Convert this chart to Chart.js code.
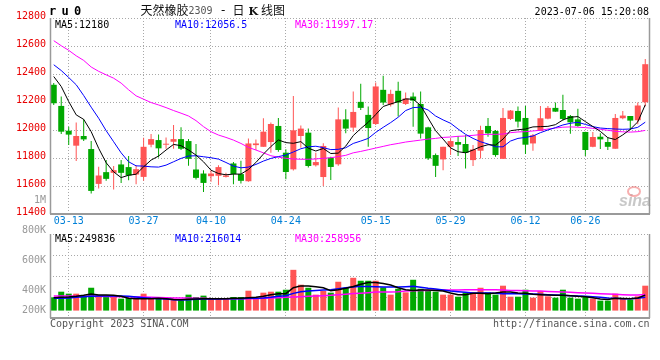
<!DOCTYPE html>
<html><head><meta charset="utf-8">
<script src="https://cdn.jsdelivr.net/npm/chart.js@4.4.0/dist/chart.umd.min.js"></script>
<style>
html,body{margin:0;padding:0;background:#fff;}
#wrap{position:relative;width:660px;height:360px;overflow:hidden;}
canvas{position:absolute;left:0;top:0;}
</style></head><body>
<div id="wrap"><canvas id="pc" width="660" height="360"></canvas><canvas id="vc" width="660" height="360"></canvas></div>
<script>
const dates = ['03-09','03-10','03-13','03-14','03-15','03-16','03-17','03-20','03-21','03-22','03-23','03-24','03-27','03-28','03-29','03-30','03-31','04-03','04-04','04-06','04-07','04-10','04-11','04-12','04-13','04-14','04-17','04-18','04-19','04-20','04-21','04-24','04-25','04-26','04-27','04-28','05-04','05-05','05-08','05-09','05-10','05-11','05-12','05-15','05-16','05-17','05-18','05-19','05-22','05-23','05-24','05-25','05-26','05-29','05-30','05-31','06-01','06-02','06-05','06-06','06-07','06-08','06-09','06-12','06-13','06-14','06-15','06-16','06-19','06-20','06-21','06-26','06-27','06-28','06-29','06-30','07-03','07-04','07-05','07-06'];
const tickDates = ['03-13','03-27','04-10','04-24','05-15','05-29','06-12','06-26'];
const priceTicks = [11400,11600,11800,12000,12200,12400,12600,12800];
const volTickLabels = ['1M','800K','600K','400K','200K'];

const opens = [12323,12172,11995,11888,11957,11864,11615,11699,11694,11754,11735,11682,11665,11895,11928,11895,11916,11935,11921,11718,11689,11670,11673,11665,11761,11685,11634,11892,11880,11914,12029,11838,11719,11957,11981,11748,11664,11802,11755,12076,12017,12201,12108,12043,12287,12182,12280,12186,12239,12186,12019,11821,11790,11880,11914,11900,11785,11852,12029,11993,11794,12079,12136,12086,11904,11993,12081,12158,12143,12100,12076,11986,11880,11952,11914,11866,12084,12100,12070,12198];
const highs = [12335,12239,12024,12053,12076,11921,11737,11785,11742,11785,11814,11749,11945,11971,11967,11947,12036,12019,11935,11900,11713,11713,11749,11694,11771,11780,11940,11933,12084,12053,12086,11862,12243,12033,12010,11838,11905,11809,12160,12148,12275,12330,12167,12339,12387,12287,12344,12268,12268,12275,12024,11833,11880,11940,11957,11964,11892,12031,12086,12000,12158,12143,12167,12172,11971,12172,12172,12196,12251,12108,12151,11988,11986,11976,11947,12115,12136,12100,12196,12507];
const lows = [12179,11971,11892,11778,11921,11546,11582,11637,11575,11622,11641,11613,11637,11876,11804,11866,11866,11857,11744,11646,11558,11630,11606,11660,11613,11618,11630,11857,11880,11837,11845,11648,11710,11874,11732,11740,11600,11643,11744,11976,11988,12143,11880,12036,12179,12167,12096,12179,12024,11940,11785,11665,11713,11821,11814,11725,11742,11797,11952,11809,11794,12072,12017,11828,11852,11993,12076,12131,12067,11974,12024,11814,11876,11864,11857,11866,12076,12000,12041,12167];
const closes = [12191,11988,11967,11957,11933,11565,11675,11651,11713,11694,11675,11720,11880,11935,11869,11902,11935,11866,11794,11658,11622,11689,11735,11675,11685,11637,11904,11904,11988,12043,11857,11700,11998,12010,11743,11771,11886,11736,12076,12010,12129,12158,12014,12311,12196,12258,12196,12225,12210,11974,11797,11744,11880,11921,11895,11837,11861,12000,11976,11821,12086,12139,12060,11895,11962,12084,12158,12131,12079,12055,12029,11857,11950,11933,11880,12086,12103,12067,12175,12470];

const ma5 = [12382,12311,12203,12108,12076,11988,11869,11766,11701,11660,11677,11684,11737,11785,11814,11857,11897,11888,11857,11821,11773,11713,11689,11680,11685,11685,11718,11768,11828,11882,11929,11910,11905,11917,11870,11850,11868,11832,11835,11885,11960,12010,12055,12110,12168,12186,12203,12222,12220,12176,12085,11995,11935,11872,11845,11837,11857,11880,11895,11892,11935,11995,12002,12007,12022,12024,12026,12038,12072,12091,12096,12060,12025,11990,11945,11932,11965,12005,12058,12180];
const ma10 = [12466,12425,12375,12323,12246,12163,12084,11995,11916,11837,11773,11744,11742,11737,11735,11749,11773,11797,11814,11816,11809,11802,11792,11768,11742,11730,11735,11754,11778,11797,11810,11821,11843,11866,11880,11884,11874,11860,11862,11873,11904,11921,11940,11983,12019,12053,12091,12139,12160,12163,12143,12100,12072,12048,12007,11969,11940,11916,11900,11880,11880,11921,11940,11947,11957,11981,12000,12017,12036,12048,12055,12040,12024,12014,12010,12007,12005,12007,12019,12056];
const ma30 = [12638,12602,12569,12530,12497,12450,12419,12394,12370,12335,12287,12244,12220,12196,12179,12160,12139,12120,12100,12067,12024,11988,11964,11947,11928,11904,11876,11857,11837,11816,11806,11798,11793,11791,11791,11793,11798,11802,11810,11819,11837,11847,11859,11871,11883,11895,11904,11914,11921,11928,11935,11940,11947,11950,11955,11957,11962,11967,11969,11969,11971,11981,11986,11988,11993,11998,12007,12014,12020,12022,12020,12017,12012,12005,11998,11990,11987,11985,11988,11997];

const volumes = [215000,306000,274000,274000,220000,370000,220000,231000,231000,193000,204000,188000,274000,220000,199000,193000,193000,166000,258000,220000,242000,193000,193000,193000,220000,220000,322000,193000,290000,306000,306000,338000,660000,419000,370000,258000,317000,290000,467000,370000,531000,483000,483000,483000,376000,258000,354000,295000,499000,354000,327000,306000,258000,258000,225000,295000,284000,370000,295000,258000,403000,225000,225000,338000,209000,317000,231000,209000,338000,209000,193000,231000,193000,161000,161000,274000,193000,177000,231000,403000];
const volMa5 = [209000,215000,220000,231000,247000,268000,252000,252000,247000,231000,200000,190000,190000,193000,200000,190000,180000,177000,182000,188000,193000,193000,193000,193000,199000,199000,209000,215000,231000,258000,274000,274000,370000,400000,397000,386000,370000,322000,338000,360000,390000,425000,455000,455000,440000,413000,370000,338000,327000,333000,333000,327000,317000,284000,258000,258000,279000,279000,274000,284000,300000,300000,284000,279000,263000,258000,252000,247000,247000,242000,231000,225000,209000,188000,180000,200000,196000,193000,205000,249836];
const volMa10 = [199000,199000,204000,215000,225000,231000,236000,236000,236000,236000,231000,220000,209000,199000,193000,188000,177000,172000,177000,182000,188000,188000,188000,193000,193000,193000,199000,199000,204000,215000,231000,242000,279000,306000,317000,327000,333000,338000,354000,370000,381000,392000,392000,386000,381000,381000,381000,386000,392000,376000,360000,349000,333000,317000,306000,295000,284000,284000,284000,279000,274000,274000,274000,268000,268000,263000,258000,252000,247000,242000,236000,231000,225000,215000,204000,199000,193000,193000,199000,216014];
const volMa30 = [236000,236000,236000,234000,231000,231000,231000,228000,228000,225000,225000,220000,218000,215000,212000,209000,204000,204000,202000,199000,199000,193000,193000,193000,193000,193000,193000,193000,199000,204000,209000,215000,220000,225000,231000,236000,242000,247000,255000,265000,275000,282000,290000,300000,300000,300000,306000,317000,322000,327000,327000,333000,333000,333000,333000,338000,338000,338000,338000,338000,333000,327000,327000,322000,317000,317000,311000,306000,300000,295000,290000,284000,279000,274000,268000,263000,258000,252000,252000,258956];

const priceHeader = ['MA5:12180','MA10:12056.5','MA30:11997.17'];
const volHeader = ['MA5:249836','MA10:216014','MA30:258956'];

const UP = '#ff5555', DOWN = '#00a800';
const C5 = '#000000', C10 = '#0000ff', C30 = '#ff00ff';
const MONO = '"DejaVu Sans Mono", "Liberation Mono", monospace';
const GRID = '#a8a8a8';
const candleColors = opens.map((o, i) => closes[i] >= o ? UP : DOWN);

const xGridColor = ctx => (ctx.index !== undefined && tickDates.includes(dates[ctx.index])) ? GRID : 'rgba(0,0,0,0)';
const xTickCb = (v, i) => tickDates.includes(dates[i]) ? dates[i] : '';

function lineDs(data, color, w) {
  return {type: 'line', data, borderColor: color, borderWidth: w, pointRadius: 0, tension: 0, fill: false, order: 0};
}

const framePlugin = {
  id: 'frame',
  afterDraw(chart) {
    const {ctx, chartArea: a} = chart;
    ctx.save();
    ctx.strokeStyle = '#9a9a9a';
    ctx.lineWidth = 1.5;
    ctx.beginPath();
    ctx.moveTo(a.left + 0.5, a.top); ctx.lineTo(a.left + 0.5, a.bottom);
    ctx.moveTo(a.right + 0.5, a.top); ctx.lineTo(a.right + 0.5, a.bottom);
    ctx.stroke();
    ctx.lineWidth = 2;
    ctx.beginPath();
    ctx.moveTo(a.left, a.bottom); ctx.lineTo(a.right + 1, a.bottom);
    ctx.stroke();
    ctx.restore();
  }
};

const priceText = {
  id: 'priceText',
  beforeDatasetsDraw(chart) {
    const ctx = chart.ctx;
    ctx.save();
    ctx.font = 'bold italic 16px "Liberation Sans", sans-serif';
    ctx.fillStyle = '#c8c8c8';
    ctx.textBaseline = 'alphabetic';
    ctx.fillText('sina', 619, 206);
    ctx.strokeStyle = 'rgba(240,110,110,0.55)';
    ctx.lineWidth = 2;
    ctx.beginPath();
    ctx.ellipse(634, 191.5, 6, 4.5, 0, 0, Math.PI * 2);
    ctx.stroke();
    ctx.restore();
  },
  afterDraw(chart) {
    const ctx = chart.ctx;
    ctx.save();
    ctx.textBaseline = 'alphabetic';
    ctx.fillStyle = '#000';
    ctx.font = 'bold 12px "DejaVu Sans Mono", monospace';
    if ('letterSpacing' in ctx) ctx.letterSpacing = '5.3px';
    ctx.fillText('ru0', 49, 15);
    if ('letterSpacing' in ctx) ctx.letterSpacing = '0px';
    ctx.font = '12px "Noto Sans CJK SC", sans-serif';
    ctx.fillStyle = '#111';
    ctx.fillText('天然橡胶', 140.5, 14.5);
    ctx.font = '10px ' + MONO;
    ctx.fillStyle = '#555';
    ctx.fillText('2309', 188.5, 14);
    ctx.font = '12px "DejaVu Sans", sans-serif';
    ctx.fillStyle = '#111';
    ctx.fillText('-', 221, 14);
    ctx.font = '12px "Noto Sans CJK SC", sans-serif';
    ctx.fillText('日', 232.5, 14.5);
    ctx.font = 'bold 11px "DejaVu Serif", serif';
    ctx.fillText('K', 248.5, 14.5);
    ctx.font = '12px "Noto Sans CJK SC", sans-serif';
    ctx.fillText('线图', 261, 14.5);
    ctx.font = '10px ' + MONO;
    ctx.fillStyle = '#000';
    ctx.textAlign = 'right';
    ctx.fillText('2023-07-06 15:20:08', 649, 15);
    ctx.textAlign = 'left';
    const xs = [55, 175, 295], cs = [C5, C10, C30];
    priceHeader.forEach((t, i) => { ctx.fillStyle = cs[i]; ctx.fillText(t, xs[i], 27.5); });
    ctx.restore();
  }
};

const volText = {
  id: 'volText',
  afterDraw(chart) {
    const ctx = chart.ctx;
    ctx.save();
    ctx.font = '10px ' + MONO;
    ctx.textBaseline = 'alphabetic';
    const xs = [55, 175, 295], cs = [C5, C10, C30];
    volHeader.forEach((t, i) => { ctx.fillStyle = cs[i]; ctx.fillText(t, xs[i], 241.8); });
    ctx.fillStyle = '#999';
    ctx.textAlign = 'right';
    ctx.textBaseline = 'middle';
    const ly = [200.7, 230.8, 260.8, 290, 310];
    volTickLabels.forEach((t, i) => ctx.fillText(t, 46, ly[i]));
    ctx.textBaseline = 'alphabetic';
    ctx.fillStyle = '#555';
    ctx.fillText('http://finance.sina.com.cn', 649.5, 326.5);
    ctx.textAlign = 'left';
    ctx.fillText('Copyright 2023 SINA.COM', 50, 326.5);
    ctx.restore();
  }
};

const common = {
  responsive: false, animation: false, devicePixelRatio: 1, events: [],
  plugins: {legend: {display: false}, tooltip: {enabled: false}}
};

new Chart(document.getElementById('pc'), {
  type: 'bar',
  data: {
    labels: dates,
    datasets: [
      lineDs(ma5, C5, 1), lineDs(ma10, C10, 1), lineDs(ma30, C30, 1),
      {type: 'bar', data: opens.map((o, i) => [o, closes[i]]), backgroundColor: candleColors, barThickness: 6, grouped: false, inflateAmount: 0, borderWidth: 0, order: 1},
      {type: 'bar', data: lows.map((l, i) => [l, highs[i]]), backgroundColor: candleColors, barThickness: 1, grouped: false, inflateAmount: 0, borderWidth: 0, order: 2}
    ]
  },
  options: Object.assign({}, common, {
    layout: {padding: {left: 0, right: 11, top: 18, bottom: 0}},
    scales: {
      x: {
        type: 'category', offset: true,
        grid: {offset: false, drawTicks: false, color: xGridColor, lineWidth: 1},
        border: {display: false, dash: [1, 2]},
        ticks: {autoSkip: false, maxRotation: 0, minRotation: 0, padding: 1, color: '#0080d8', font: {family: MONO, size: 10}, callback: xTickCb},
        afterFit: s => { s.height = 146; }
      },
      y: {
        type: 'linear', min: 11400, max: 12800,
        afterBuildTicks: s => { s.ticks = priceTicks.map(v => ({value: v})); },
        grid: {drawTicks: false, color: GRID, lineWidth: 1},
        border: {display: false, dash: [1, 2]},
        ticks: {padding: 4, color: '#e80000', font: {family: MONO, size: 10}, labelOffset: -1.5, callback: v => String(v)},
        afterFit: s => { s.width = 50; }
      }
    }
  }),
  plugins: [framePlugin, priceText]
});

new Chart(document.getElementById('vc'), {
  type: 'bar',
  data: {
    labels: dates,
    datasets: [
      lineDs(volMa5, C5, 1.5), lineDs(volMa10, C10, 1.5), lineDs(volMa30, C30, 1.5),
      {type: 'bar', data: volumes, backgroundColor: candleColors, barThickness: 6, inflateAmount: 0, borderWidth: 0, order: 1}
    ]
  },
  options: Object.assign({}, common, {
    layout: {padding: {left: 0, right: 11, top: 234, bottom: 0}},
    scales: {
      x: {
        type: 'category', offset: true,
        grid: {offset: false, drawTicks: false, color: xGridColor, lineWidth: 1},
        border: {display: false, dash: [1, 2]},
        ticks: {autoSkip: false, maxRotation: 0, minRotation: 0, color: 'rgba(0,0,0,0)', font: {family: MONO, size: 10}, callback: xTickCb},
        afterFit: s => { s.height = 42; }
      },
      y: {
        type: 'linear', min: -120000, max: 1240000,
        grid: {drawTicks: false, color: GRID, lineWidth: 1},
        border: {display: false, dash: [1, 2]},
        ticks: {display: false, count: 5},
        afterFit: s => { s.width = 50; }
      }
    }
  }),
  plugins: [framePlugin, volText]
});
</script>
</body></html>
